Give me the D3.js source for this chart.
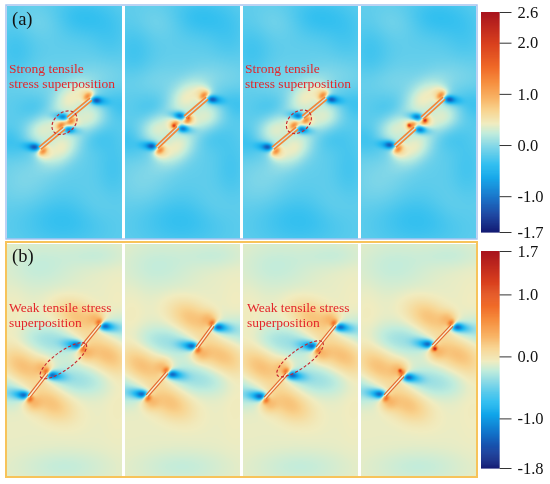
<!DOCTYPE html>
<html>
<head>
<meta charset="utf-8">
<script src="https://cdn.jsdelivr.net/npm/d3@7"></script>
<style>
body { margin: 0; background: #fff; }
#wrap { position: relative; width: 550px; height: 484px; }
canvas, svg { position: absolute; left: 0; top: 0; }
</style>
</head>
<body>
<div id="wrap"></div>
<script>
// ---- data (specimen coordinates in mm, stress in MPa-like units) ----
var specimenWidth = 50, specimenHeight = 100

var stressDomainA = [-1.7, 2.6]
var stressDomainB = [-1.8, 1.7]
var tickValuesA = [2.6, 2.0, 1.0, 0.0, -1.0, -1.7]
var tickValuesB = [1.7, 1.0, 0.0, -1.0, -1.8]
var backgroundA = -0.15
var backgroundB = -0.09

// two pre-existing flaws per specimen, [x1, y1, x2, y2]
var flawsA = [
  [[14.3, 38.8, 24.8, 47.4], [26.5, 51.7, 36.5, 59.9]],
  [[13.9, 39.2, 23.0, 47.8], [26.1, 52.2, 35.7, 60.3]],
  [[13.0, 38.8, 23.5, 47.4], [26.1, 52.2, 36.1, 60.3]],
  [[14.8, 39.7, 23.5, 47.4], [26.5, 51.7, 36.1, 60.3]]
]
var flawsB = [
  [[9.6, 34.1, 17.4, 44.0], [32.6, 55.6, 40.4, 65.1]],
  [[9.6, 34.5, 18.3, 44.4], [31.3, 55.2, 38.3, 64.7]],
  [[9.6, 33.6, 19.1, 44.0], [32.2, 55.2, 40.0, 64.7]],
  [[10.4, 34.5, 18.3, 43.1], [31.3, 56.0, 39.6, 64.7]]
]

// stress concentration around the upper flaw tip (lower tip is the 180 deg copy)
// [dx, dy, spreadX, spreadY, angle, stress]
var tipFieldA = [
  [2.0, -0.5, 1.6, 1.1, -5, -0.9],
  [4.2, -0.8, 2.6, 1.4, -8, -0.4],
  [9.0, -2.0, 7.5, 4.5, -10, -0.22],
  [-1.3, 1.1, 1.5, 1.0, 40, 0.8],
  [-1.6, 2.2, 2.4, 2.2, 0, 0.4]
]
var tipFieldB = [
  [1.7, -0.6, 1.9, 1.2, -5, -0.85],
  [4.3, -1.0, 3.2, 1.6, -8, -0.45],
  [12, -2.5, 10, 4.5, -8, -0.25],
  [-0.3, 0.7, 1.2, 1.0, 45, 0.9],
  [-1.5, 2.5, 2.6, 2.6, 0, 0.3]
]
// tensile lobes beside the flaw faces, relative to flaw centre (mirrored)
var faceFieldA = [[-3.8, 4.4, 7.0, 4.5, 40, 0.55]]
var faceFieldB = [[-5.2, 7.5, 7.5, 4.5, -30, 0.35]]

// smooth background variation, [x, y, spreadX, spreadY, stress]
var textureA = [
  [32, 95, 10, 6, -0.2], [4, 80, 6, 10, -0.14], [25, 8, 14, 8, -0.2],
  [46, 30, 5, 10, -0.12], [45, 86, 6, 8, -0.1], [12, 68, 12, 5, 0.1],
  [8, 24, 8, 8, 0.12], [42, 70, 8, 6, 0.1], [40, 14, 8, 6, 0.08], [15, 93, 8, 5, 0.1]
]
var textureB = [
  [14, 90, 12, 8, -0.12], [40, 95, 10, 4, -0.1], [25, 4, 14, 5, -0.12],
  [48, 50, 4, 20, 0.06], [3, 60, 4, 15, 0.05]
]

// new tensile spots near inner tips, [x, y, stress]
var wingSpotsA = [[], [[21.3, 48.4, 0.9], [27.4, 52.2, 0.9]], [], [[20.9, 48.7, 1.1], [27.8, 50.9, 1.1]]]
var wingSpotsB = [[], [], [], [[17.0, 45.3, 0.8], [32.2, 54.7, 0.8]]]

var notesA = [['Strong tensile', 'stress superposition'], null, ['Strong tensile', 'stress superposition'], null]
var notesB = [['Weak tensile stress', 'superposition'], null, ['Weak tensile stress', 'superposition'], null]
// marked bridge zone, [cx, cy, rx, ry, angle]
var ringsA = [[25.0, 49.8, 6.1, 4.3, 40], null, [24.3, 50.2, 6.1, 4.3, 40], null]
var ringsB = [[24.5, 49.6, 12.2, 3.9, 36], null, [24.8, 50.4, 12.2, 3.9, 36], null]

var colorStops = [0, 0.08, 0.16, 0.25, 0.31, 0.39, 0.45, 0.495, 0.555, 0.61, 0.68, 0.75, 0.86, 1]
var colorRamp = ['#141a72', '#1a44a0', '#1270c8', '#10a6ea', '#2ebef0', '#80d6e8', '#c0ecdc',
  '#f0ecc0', '#f8d490', '#f8b466', '#f69040', '#f06a28', '#d8401e', '#a8141e']

// ---- layout ----
var W = 550, H = 484
var dpr = window.devicePixelRatio || 1
var panelLefts = [7, 125, 243, 361], panelWidth = 115
var serif = '"Liberation Serif", "Times New Roman", serif'

var rows = [
  { label: '(a)', top: 6, height: 232.5, domain: stressDomainA, ticks: tickValuesA, base: backgroundA,
    flaws: flawsA, tip: tipFieldA, face: faceFieldA, texture: textureA, wings: wingSpotsA,
    notes: notesA, rings: ringsA, frame: [6, 5, 471, 234], frameColor: '#a6c4f0', frameWidth: 1.5,
    bar: [12, 232], labelY: 25, noteY: [73, 88], noteX: [2, 2],
    flawEdge: '#f2873a', flawCore: '#bfeaf2', edgeWidth: 1.7, gap: 1.5 },
  { label: '(b)', top: 243.5, height: 232.5, domain: stressDomainB, ticks: tickValuesB, base: backgroundB,
    flaws: flawsB, tip: tipFieldB, face: faceFieldB, texture: textureB, wings: wingSpotsB,
    notes: notesB, rings: ringsB, frame: [6, 242, 471, 235], frameColor: '#f7c35a', frameWidth: 2,
    bar: [251, 468], labelY: 262, noteY: [311.5, 327], noteX: [2, 4],
    flawEdge: '#e4672f', flawCore: '#f6efd2', edgeWidth: 1.1, gap: 1.3 }
]

var wrap = d3.select('#wrap')
var canvas = wrap.append('canvas')
  .attr('width', W * dpr).attr('height', H * dpr)
  .style('width', W + 'px').style('height', H + 'px')
var ctx = canvas.node().getContext('2d')
var svg = wrap.append('svg').attr('width', W).attr('height', H)

function blob(x, y, b) {
  var r = b[4] * Math.PI / 180
  return { x: x, y: y, sx: b[2], sy: b[3], c: Math.cos(r), s: Math.sin(r), v: b[5] }
}

function blobsFor(row, p) {
  var list = row.texture.map(function(t) {
    return blob(t[0], t[1], [0, 0, t[2], t[3], 0, t[4]])
  })
  row.flaws[p].forEach(function(f) {
    var up = f[1] > f[3] ? [f[0], f[1]] : [f[2], f[3]]
    var lo = f[1] > f[3] ? [f[2], f[3]] : [f[0], f[1]]
    var c = [(f[0] + f[2]) / 2, (f[1] + f[3]) / 2]
    row.tip.forEach(function(b) {
      list.push(blob(up[0] + b[0], up[1] + b[1], b))
      list.push(blob(lo[0] - b[0], lo[1] - b[1], b))
    })
    row.face.forEach(function(b) {
      list.push(blob(c[0] + b[0], c[1] + b[1], b))
      list.push(blob(c[0] - b[0], c[1] - b[1], b))
    })
  })
  row.wings[p].forEach(function(w) {
    list.push(blob(w[0], w[1], [0, 0, 0.55, 0.55, 0, w[2]]))
  })
  return list
}

function stressAt(list, base, mx, my) {
  var v = base
  for (var k = 0; k < list.length; k++) {
    var b = list[k]
    var dx = mx - b.x, dy = my - b.y
    var u = dx * b.c + dy * b.s, w = -dx * b.s + dy * b.c
    var e = u * u / (2 * b.sx * b.sx) + w * w / (2 * b.sy * b.sy)
    if (e < 12) v += b.v * Math.exp(-e)
  }
  return v
}

rows.forEach(function(row) {
  var lo = row.domain[0], hi = row.domain[1]
  var color = d3.scaleLinear()
    .domain(colorStops.map(function(t) { return lo + t * (hi - lo) }))
    .range(colorRamp)
    .clamp(true)
  var lut = d3.range(512).map(function(k) { return d3.rgb(color(lo + k / 511 * (hi - lo))) })
  var toIndex = d3.scaleLinear().domain(row.domain).range([0, 511]).clamp(true)

  // frame
  svg.append('rect')
    .attr('x', row.frame[0]).attr('y', row.frame[1])
    .attr('width', row.frame[2]).attr('height', row.frame[3])
    .attr('fill', 'none').attr('stroke', row.frameColor).attr('stroke-width', row.frameWidth)

  panelLefts.forEach(function(left, p) {
    var x = d3.scaleLinear().domain([0, specimenWidth]).range([left, left + panelWidth])
    var y = d3.scaleLinear().domain([0, specimenHeight]).range([row.top + row.height, row.top])
    var list = blobsFor(row, p)

    var x0 = Math.round(left * dpr), y0 = Math.round(row.top * dpr)
    var w = Math.round((left + panelWidth) * dpr) - x0
    var h = Math.round((row.top + row.height) * dpr) - y0
    var img = ctx.createImageData(w, h)
    for (var j = 0; j < h; j++) {
      var my = y.invert((y0 + j + 0.5) / dpr)
      for (var i = 0; i < w; i++) {
        var mx = x.invert((x0 + i + 0.5) / dpr)
        var c = lut[Math.round(toIndex(stressAt(list, row.base, mx, my)))]
        var o = (j * w + i) * 4
        img.data[o] = c.r; img.data[o + 1] = c.g; img.data[o + 2] = c.b; img.data[o + 3] = 255
      }
    }
    ctx.putImageData(img, x0, y0)

    // flaws
    var g = svg.append('g')
    row.flaws[p].forEach(function(f) {
      var ax = x(f[0]), ay = y(f[1]), bx = x(f[2]), by = y(f[3])
      var len = Math.hypot(bx - ax, by - ay)
      var nx = -(by - ay) / len * row.gap, ny = (bx - ax) / len * row.gap
      g.append('line').attr('x1', ax).attr('y1', ay).attr('x2', bx).attr('y2', by)
        .attr('stroke', row.flawCore).attr('stroke-width', 1.6)
      ;[1, -1].forEach(function(sgn) {
        g.append('line')
          .attr('x1', ax + sgn * nx).attr('y1', ay + sgn * ny)
          .attr('x2', bx + sgn * nx).attr('y2', by + sgn * ny)
          .attr('stroke', row.flawEdge).attr('stroke-width', row.edgeWidth)
      })
    })

    var ring = row.rings[p]
    if (ring) {
      var cx = x(ring[0]), cy = y(ring[1])
      g.append('ellipse')
        .attr('cx', cx).attr('cy', cy)
        .attr('rx', x(ring[2]) - x(0)).attr('ry', y(0) - y(ring[3]))
        .attr('transform', 'rotate(' + (-ring[4]) + ',' + cx + ',' + cy + ')')
        .attr('fill', 'none').attr('stroke', '#c8242c').attr('stroke-width', 1.1)
        .attr('stroke-dasharray', '3,2')
    }

    var note = row.notes[p]
    if (note) {
      note.forEach(function(line, k) {
        g.append('text')
          .attr('x', left + row.noteX[p > 1 ? 1 : 0]).attr('y', row.noteY[k])
          .attr('font-family', serif).attr('font-size', 13.5)
          .attr('fill', '#e3262b')
          .text(line)
      })
    }
  })

  svg.append('text')
    .attr('x', 12).attr('y', row.labelY)
    .attr('font-family', serif).attr('font-size', 18.5).attr('fill', '#111')
    .text(row.label)

  // colour bar
  var barY = d3.scaleLinear().domain(row.domain).range([row.bar[1], row.bar[0]])
  var bar = svg.append('g')
  var steps = d3.range(0, 221)
  bar.selectAll('rect').data(steps).enter().append('rect')
    .attr('x', 481).attr('width', 18.5)
    .attr('y', function(k) { return barY(lo + (k + 1) / 221 * (hi - lo)) })
    .attr('height', function(k) { return barY(lo + k / 221 * (hi - lo)) - barY(lo + (k + 1) / 221 * (hi - lo)) + 0.6 })
    .attr('fill', function(k) { return color(lo + (k + 0.5) / 221 * (hi - lo)) })

  var axis = svg.append('g')
    .attr('transform', 'translate(499.5,0)')
    .call(d3.axisRight(barY).tickValues(row.ticks).tickSize(12).tickPadding(6)
      .tickFormat(function(d) { return d.toFixed(1) }))
  axis.select('.domain').remove()
  axis.selectAll('line').attr('stroke', '#333')
  axis.selectAll('text').attr('font-family', serif).attr('font-size', 16.5).attr('fill', '#111')
})
</script>
</body>
</html>
